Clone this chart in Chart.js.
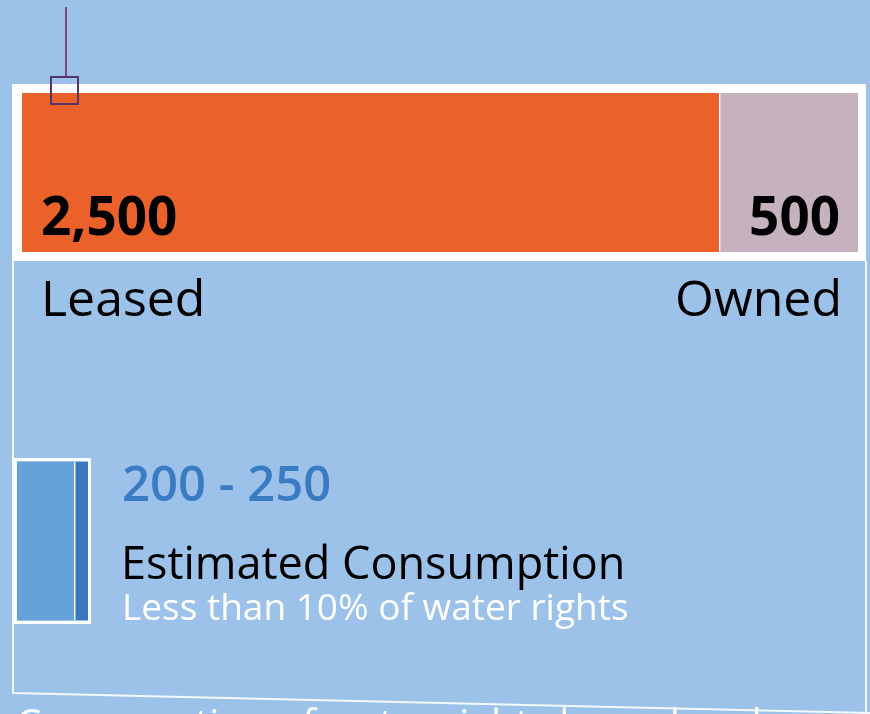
<!DOCTYPE html>
<html>
<head>
<meta charset="utf-8">
<script src="https://cdn.jsdelivr.net/npm/chart.js@4.4.0/dist/chart.umd.min.js"></script>
<style>
  body { margin: 0; background: #9cc2e9; overflow: hidden; font-family: 'Open Sans', sans-serif; }
  #wrap { position: relative; width: 870px; height: 714px; overflow: hidden; }
  canvas { position: absolute; }
  #main { left: 0; top: 0; }
  #small { left: 0; top: 440px; }
  .txt { position: absolute; white-space: nowrap; line-height: 1; }
</style>
</head>
<body>
<div id="wrap">
  <canvas id="main" width="870" height="714"></canvas>
  <canvas id="small" width="110" height="200"></canvas>
  <div class="txt" style="left:122px;top:458px;font-size:49px;font-weight:600;color:#3a7cc3">200 - 250</div>
  <div class="txt" style="left:121px;top:539px;font-size:45px;color:#000">Estimated Consumption</div>
  <div class="txt" style="left:122px;top:587px;font-size:37px;color:#fff">Less than 10% of water rights</div>
  <div class="txt" style="left:16px;top:703px;font-size:40px;color:#fff">Consumption of water rights leased and owned</div>
</div>
<script>
// water rights split
const segmentNames = ['Leased', 'Owned'];
const segmentValues = [2500, 500];
const segmentLabels = ['2,500', '500'];
const segmentColors = ['#ea6129', '#c6b2be'];

// estimated consumption: low value + extra up to the high value
const consumptionParts = [200, 50];
const consumptionColors = ['#65a2da', '#3977c0'];

const total = segmentValues.reduce((a, b) => a + b, 0);

// background, frame, thin outline and the marker at the top
const backdrop = {
    id: 'backdrop',
    beforeDraw(chart) {
        const ctx = chart.ctx;
        ctx.save();
        ctx.fillStyle = '#9cc2e9';
        ctx.fillRect(0, 0, chart.width, chart.height);
        ctx.fillStyle = '#ffffff';
        ctx.fillRect(12, 84, 854, 177);
        ctx.strokeStyle = 'rgba(255,255,255,0.9)';
        ctx.lineWidth = 2;
        ctx.beginPath();
        ctx.moveTo(13, 261); ctx.lineTo(13, 693); ctx.lineTo(870, 713);
        ctx.moveTo(866, 261); ctx.lineTo(866, 714);
        ctx.stroke();
        ctx.restore();
    },
    afterDraw(chart) {
        const ctx = chart.ctx;
        ctx.save();
        ctx.strokeStyle = '#7a4a72';
        ctx.lineWidth = 2;
        ctx.beginPath();
        ctx.moveTo(66, 7); ctx.lineTo(66, 77);
        ctx.stroke();
        ctx.strokeStyle = '#55366a';
        ctx.strokeRect(51, 77, 27, 27);
        ctx.restore();
    }
};

// value labels inside the bars, names below
const barLabels = {
    id: 'barLabels',
    afterDatasetsDraw(chart) {
        const ctx = chart.ctx;
        ctx.save();
        ctx.fillStyle = '#000';
        chart.data.datasets.forEach((ds, i) => {
            const bar = chart.getDatasetMeta(i).data[0];
            const p = bar.getProps(['x', 'base', 'y', 'height'], true);
            const bottom = p.y + p.height / 2;
            const first = i === 0;
            ctx.textAlign = first ? 'left' : 'right';
            const tx = first ? p.base + 19 : p.x - 18;
            ctx.font = 'bold 53px "Open Sans"';
            ctx.fillText(segmentLabels[i], tx, bottom - 17);
            ctx.font = '50px "Open Sans"';
            ctx.fillText(ds.label, first ? tx : tx + 2, bottom + 64);
        });
        ctx.restore();
    }
};

new Chart(document.getElementById('main'), {
    type: 'bar',
    data: {
        labels: ['Water rights'],
        datasets: segmentNames.map((name, i) => ({
            label: name,
            data: [segmentValues[i]],
            backgroundColor: segmentColors[i],
            borderColor: '#ffffff',
            borderWidth: i === 0 ? 0 : { left: 2, top: 0, right: 0, bottom: 0 },
            borderSkipped: false,
            barPercentage: 1,
            categoryPercentage: 1
        }))
    },
    options: {
        indexAxis: 'y',
        responsive: false,
        animation: false,
        layout: { padding: { left: 22, right: 12, top: 93, bottom: 462 } },
        plugins: { legend: { display: false }, tooltip: { enabled: false } },
        scales: {
            x: { stacked: true, min: 0, max: total, display: false },
            y: { stacked: true, display: false }
        }
    },
    plugins: [backdrop, barLabels]
});

// white frame round the small bar
const smallFrame = {
    id: 'smallFrame',
    beforeDatasetsDraw(chart) {
        const ctx = chart.ctx;
        ctx.save();
        ctx.strokeStyle = '#ffffff';
        ctx.lineWidth = 3;
        ctx.strokeRect(15.5, 19.5, 74, 163);
        ctx.restore();
    }
};

new Chart(document.getElementById('small'), {
    type: 'bar',
    data: {
        labels: ['Consumption'],
        datasets: consumptionParts.map((v, i) => ({
            label: i === 0 ? 'Low' : 'High',
            data: [v],
            backgroundColor: consumptionColors[i],
            borderColor: '#ffffff',
            borderWidth: i === 0 ? 0 : { left: 2, top: 0, right: 0, bottom: 0 },
            borderSkipped: false,
            barPercentage: 1,
            categoryPercentage: 1
        }))
    },
    options: {
        indexAxis: 'y',
        responsive: false,
        animation: false,
        layout: { padding: { left: 17, right: 22, top: 22, bottom: 20 } },
        plugins: { legend: { display: false }, tooltip: { enabled: false } },
        scales: {
            x: { stacked: true, min: 0, max: 250, display: false },
            y: { stacked: true, display: false }
        }
    },
    plugins: [smallFrame]
});
</script>
</body>
</html>
